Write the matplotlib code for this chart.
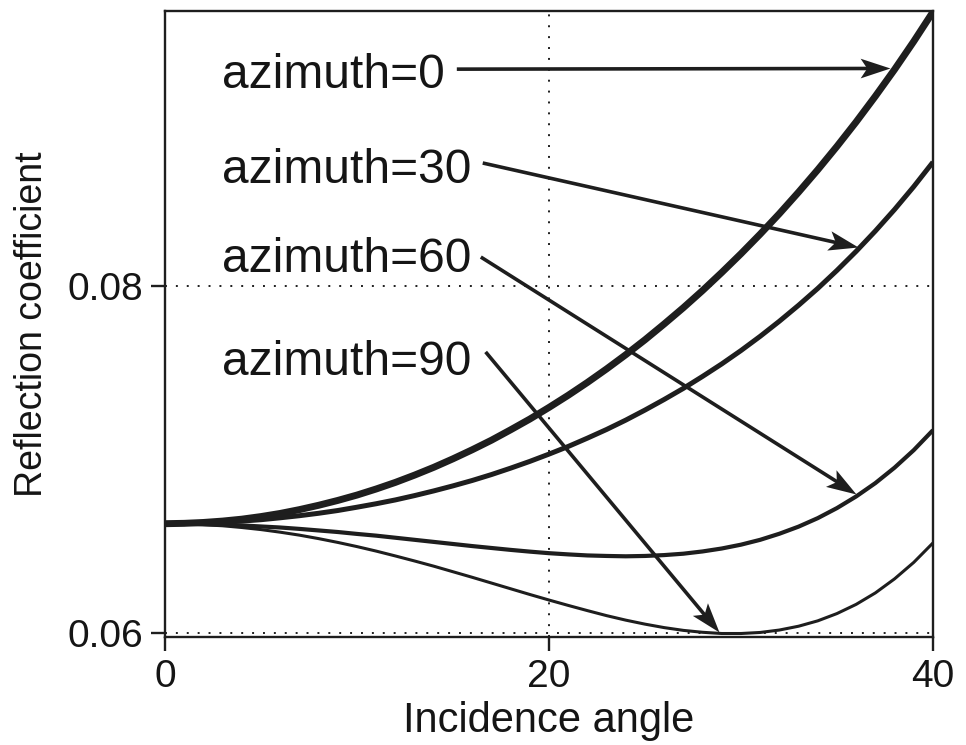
import math
import matplotlib
matplotlib.use("Agg")
import matplotlib.pyplot as plt
from matplotlib.markers import MarkerStyle
from matplotlib.path import Path
from matplotlib.transforms import Affine2D

# Incidence angles (degrees) and reflection coefficients for four azimuths
angles = list(range(0, 41))

refl_az0 = [0.06630, 0.06632, 0.06637, 0.06645, 0.06656, 0.06671, 0.06689, 0.06711,
            0.06736, 0.06764, 0.06795, 0.06830, 0.06868, 0.06910, 0.06955, 0.07004,
            0.07056, 0.07111, 0.07171, 0.07233, 0.07300, 0.07370, 0.07444, 0.07522,
            0.07604, 0.07690, 0.07781, 0.07875, 0.07974, 0.08078, 0.08186, 0.08299,
            0.08417, 0.08541, 0.08670, 0.08805, 0.08946, 0.09094, 0.09248, 0.09410,
            0.09580]
refl_az30 = [0.06630, 0.06631, 0.06634, 0.06638, 0.06645, 0.06653, 0.06664, 0.06676,
             0.06690, 0.06706, 0.06725, 0.06745, 0.06767, 0.06792, 0.06819, 0.06848,
             0.06879, 0.06913, 0.06950, 0.06989, 0.07031, 0.07075, 0.07123, 0.07173,
             0.07227, 0.07285, 0.07346, 0.07410, 0.07479, 0.07551, 0.07628, 0.07710,
             0.07797, 0.07889, 0.07986, 0.08090, 0.08200, 0.08317, 0.08441, 0.08573,
             0.08714]
refl_az60 = [0.06630, 0.06629, 0.06627, 0.06624, 0.06620, 0.06614, 0.06608, 0.06600,
             0.06591, 0.06582, 0.06571, 0.06561, 0.06549, 0.06537, 0.06525, 0.06513,
             0.06501, 0.06490, 0.06479, 0.06469, 0.06460, 0.06453, 0.06447, 0.06444,
             0.06442, 0.06444, 0.06449, 0.06457, 0.06470, 0.06487, 0.06509, 0.06537,
             0.06572, 0.06613, 0.06662, 0.06720, 0.06787, 0.06864, 0.06953, 0.07054,
             0.07169]
refl_az90 = [0.06630, 0.06629, 0.06624, 0.06618, 0.06608, 0.06596, 0.06581, 0.06564,
             0.06544, 0.06522, 0.06498, 0.06472, 0.06444, 0.06415, 0.06385, 0.06353,
             0.06321, 0.06288, 0.06255, 0.06222, 0.06190, 0.06159, 0.06129, 0.06100,
             0.06074, 0.06051, 0.06031, 0.06015, 0.06004, 0.05997, 0.05997, 0.06003,
             0.06017, 0.06039, 0.06070, 0.06112, 0.06165, 0.06231, 0.06312, 0.06407,
             0.06519]

series_labels = ["azimuth=0", "azimuth=30", "azimuth=60", "azimuth=90"]
x_ticks = [0, 20, 40]
y_ticks = [0.06, 0.08]
y_tick_labels = ["0.06", "0.08"]

# Styling / layout
INK = "#1e1e1e"
TEXT = "#151515"
line_widths = [5.0, 3.6, 3.0, 2.2]
label_pos = [(2.95, 0.09141), (2.95, 0.08593), (2.95, 0.08081), (2.95, 0.07488)]
arrow_tail = [(15.2, 0.09250), (16.55, 0.08709), (16.45, 0.08167), (16.7, 0.07620)]
arrow_tip = [(37.75, 0.09254), (36.1, 0.08222), (36.0, 0.06802), (28.85, 0.06006)]
HEAD_SIZE = 43.0        # marker size of the arrow heads (points)
HEAD_HALF_WIDTH = 0.33  # half width as a fraction of the head length
HEAD_NOTCH = 0.78       # notch position as a fraction of the head length

plt.rcParams["font.family"] = ["Liberation Sans", "DejaVu Sans"]

fig = plt.figure(figsize=(9.66, 7.45), dpi=100)
ax = fig.add_axes([0.1708, 0.1450, 0.7950, 0.8409])

series = [refl_az0, refl_az30, refl_az60, refl_az90]
for vals, lw in zip(series, line_widths):
    ax.plot(angles, vals, color=INK, lw=lw, solid_capstyle="butt",
            solid_joinstyle="round", zorder=3)

ax.set_xlim(0, 40)
ax.set_ylim(0.05977, 0.09588)
ax.set_xticks(x_ticks)
ax.set_xticklabels([str(t) for t in x_ticks])
ax.set_yticks(y_ticks)
ax.set_yticklabels(y_tick_labels)

ax.grid(True, color=INK, linestyle=(0, (1, 4.6)), linewidth=1.4, zorder=1)

for sp in ax.spines.values():
    sp.set_linewidth(1.7)
    sp.set_color(INK)

ax.tick_params(direction="out", length=10, width=1.7, color=INK,
               labelsize=28, labelcolor=TEXT, pad=6)

ax.set_xlabel("Incidence angle", fontsize=30, color=TEXT, labelpad=4)
ax.set_ylabel("Reflection coefficient", fontsize=27, color=TEXT, labelpad=12)

# Notched arrow-head outline, tip at the origin pointing along +x
hw = HEAD_HALF_WIDTH
head_path = Path([(0, 0), (-1, hw), (-HEAD_NOTCH, 0), (-1, -hw), (0, 0)],
                 [Path.MOVETO, Path.LINETO, Path.LINETO, Path.LINETO, Path.CLOSEPOLY])
head_len_px = HEAD_SIZE * 0.5 * fig.dpi / 72.0

to_disp = ax.transData
to_data = ax.transData.inverted()

for text, (tx, ty), tail, tip in zip(series_labels, label_pos, arrow_tail, arrow_tip):
    ax.text(tx, ty, text, fontsize=34.5, color=TEXT, ha="left", va="baseline",
            zorder=5)

    (x0, y0), (x1, y1) = to_disp.transform([tail, tip])
    ang = math.atan2(y1 - y0, x1 - x0)
    back = head_len_px * (HEAD_NOTCH - 0.05)
    shaft_end = to_data.transform((x1 - back * math.cos(ang), y1 - back * math.sin(ang)))
    ax.plot([tail[0], shaft_end[0]], [tail[1], shaft_end[1]], color=INK, lw=2.6,
            solid_capstyle="butt", zorder=4)
    marker = MarkerStyle(head_path, transform=Affine2D().rotate(ang))
    ax.plot([tip[0]], [tip[1]], linestyle="none", marker=marker,
            markersize=HEAD_SIZE, color=INK, markeredgewidth=0, zorder=4)

fig.savefig("out.png", dpi=100, facecolor="white")
